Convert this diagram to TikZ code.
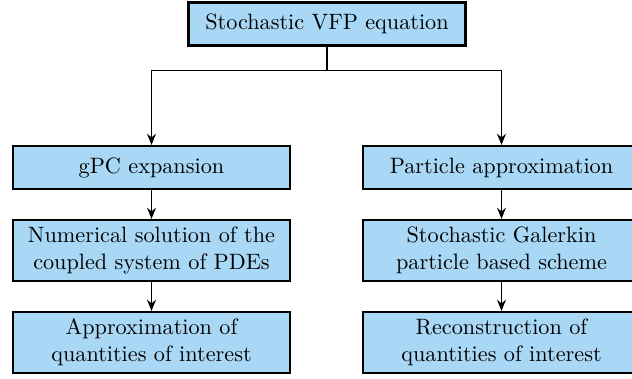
\documentclass[tikz,border=0pt]{standalone}
\usetikzlibrary{arrows.meta}
\definecolor{boxblue}{RGB}{168,216,246}
\tikzset{
	stepbox/.style={draw=black,line width=1.0pt,fill=boxblue,minimum width=124.6pt,text width=118pt,align=center,inner sep=2pt},
	onerow/.style={stepbox,minimum height=19.3pt},
	tworow/.style={stepbox,minimum height=27.4pt},
	flow/.style={-{Stealth[length=5pt,width=4pt]},line width=0.75pt}
}
\begin{document}
\begin{tikzpicture}[x=0.45pt,y=0.45pt]
\useasboundingbox (0,0) rectangle (632,379);

\node[onerow] (vfp) at (327,355) {Stochastic VFP equation};

\node[onerow] (gpc) at (151.5,211.5) {gPC expansion};
\node[tworow] (num) at (151.5,128.5) {Numerical solution of the coupled system of PDEs};
\node[tworow] (qoi) at (151.5,36.5) {Approximation of quantities of interest};

\node[onerow] (part) at (501.5,211.5) {Particle approximation};
\node[tworow] (sg) at (501.5,128.5) {Stochastic Galerkin particle based scheme};
\node[tworow] (rec) at (501.5,36.5) {Reconstruction of quantities of interest};

\draw[line width=0.75pt] (vfp.south) -- ++(0,-24) coordinate (split);
\draw[flow] (split) -| (gpc.north);
\draw[flow] (split) -| (part.north);

\foreach \a/\b in {gpc/num,num/qoi,part/sg,sg/rec}
{
	\draw[flow] (\a) -- (\b);
}
\end{tikzpicture}
\end{document}
